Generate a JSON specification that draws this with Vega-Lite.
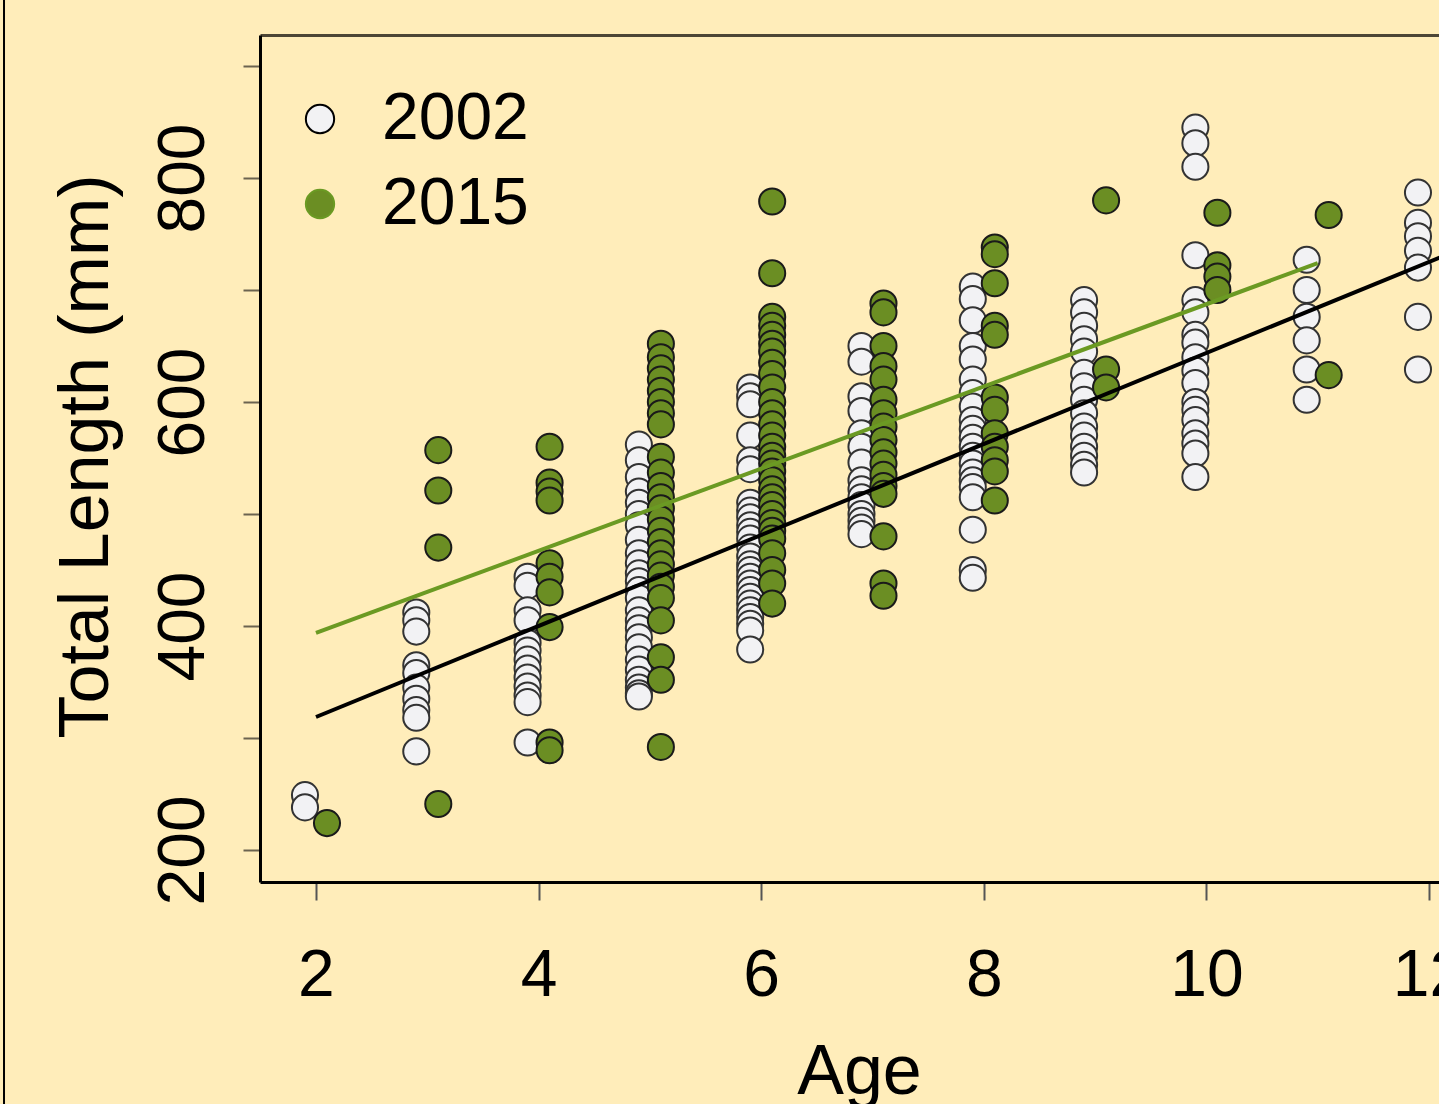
{
  "$schema": "https://vega.github.io/schema/vega-lite/v6.json",
  "width": 1179,
  "height": 847,
  "autosize": {"type": "none"},
  "padding": {"left": 260, "top": 35, "right": 0, "bottom": 222},
  "background": "#FFEDBA",
  "config": {
    "view": {"stroke": null},
    "font": "Liberation Sans"
  },
  "datasets": {
    "fish": [
      {"year": "2002", "age": 2, "length": 249}, {"year": "2002", "age": 2, "length": 238},
      {"year": "2002", "age": 3, "length": 412}, {"year": "2002", "age": 3, "length": 405}, {"year": "2002", "age": 3, "length": 395}, {"year": "2002", "age": 3, "length": 365}, {"year": "2002", "age": 3, "length": 358}, {"year": "2002", "age": 3, "length": 345}, {"year": "2002", "age": 3, "length": 335}, {"year": "2002", "age": 3, "length": 325}, {"year": "2002", "age": 3, "length": 318}, {"year": "2002", "age": 3, "length": 288},
      {"year": "2002", "age": 4, "length": 444}, {"year": "2002", "age": 4, "length": 436}, {"year": "2002", "age": 4, "length": 414}, {"year": "2002", "age": 4, "length": 405}, {"year": "2002", "age": 4, "length": 385}, {"year": "2002", "age": 4, "length": 378}, {"year": "2002", "age": 4, "length": 370}, {"year": "2002", "age": 4, "length": 362}, {"year": "2002", "age": 4, "length": 354}, {"year": "2002", "age": 4, "length": 346}, {"year": "2002", "age": 4, "length": 338}, {"year": "2002", "age": 4, "length": 332}, {"year": "2002", "age": 4, "length": 296},
      {"year": "2002", "age": 5, "length": 562}, {"year": "2002", "age": 5, "length": 548}, {"year": "2002", "age": 5, "length": 533}, {"year": "2002", "age": 5, "length": 520}, {"year": "2002", "age": 5, "length": 510}, {"year": "2002", "age": 5, "length": 500}, {"year": "2002", "age": 5, "length": 490}, {"year": "2002", "age": 5, "length": 477}, {"year": "2002", "age": 5, "length": 465}, {"year": "2002", "age": 5, "length": 456}, {"year": "2002", "age": 5, "length": 447}, {"year": "2002", "age": 5, "length": 440}, {"year": "2002", "age": 5, "length": 432}, {"year": "2002", "age": 5, "length": 425}, {"year": "2002", "age": 5, "length": 414}, {"year": "2002", "age": 5, "length": 405}, {"year": "2002", "age": 5, "length": 398}, {"year": "2002", "age": 5, "length": 390}, {"year": "2002", "age": 5, "length": 381}, {"year": "2002", "age": 5, "length": 370}, {"year": "2002", "age": 5, "length": 361}, {"year": "2002", "age": 5, "length": 352}, {"year": "2002", "age": 5, "length": 345}, {"year": "2002", "age": 5, "length": 340}, {"year": "2002", "age": 5, "length": 337},
      {"year": "2002", "age": 6, "length": 613}, {"year": "2002", "age": 6, "length": 605}, {"year": "2002", "age": 6, "length": 598}, {"year": "2002", "age": 6, "length": 570}, {"year": "2002", "age": 6, "length": 548}, {"year": "2002", "age": 6, "length": 540}, {"year": "2002", "age": 6, "length": 510}, {"year": "2002", "age": 6, "length": 503}, {"year": "2002", "age": 6, "length": 497}, {"year": "2002", "age": 6, "length": 490}, {"year": "2002", "age": 6, "length": 484}, {"year": "2002", "age": 6, "length": 478}, {"year": "2002", "age": 6, "length": 470}, {"year": "2002", "age": 6, "length": 462}, {"year": "2002", "age": 6, "length": 455}, {"year": "2002", "age": 6, "length": 450}, {"year": "2002", "age": 6, "length": 444}, {"year": "2002", "age": 6, "length": 438}, {"year": "2002", "age": 6, "length": 432}, {"year": "2002", "age": 6, "length": 426}, {"year": "2002", "age": 6, "length": 420}, {"year": "2002", "age": 6, "length": 414}, {"year": "2002", "age": 6, "length": 408}, {"year": "2002", "age": 6, "length": 402}, {"year": "2002", "age": 6, "length": 396}, {"year": "2002", "age": 6, "length": 379},
      {"year": "2002", "age": 7, "length": 650}, {"year": "2002", "age": 7, "length": 636}, {"year": "2002", "age": 7, "length": 605}, {"year": "2002", "age": 7, "length": 592}, {"year": "2002", "age": 7, "length": 572}, {"year": "2002", "age": 7, "length": 560}, {"year": "2002", "age": 7, "length": 546}, {"year": "2002", "age": 7, "length": 530}, {"year": "2002", "age": 7, "length": 522}, {"year": "2002", "age": 7, "length": 515}, {"year": "2002", "age": 7, "length": 508}, {"year": "2002", "age": 7, "length": 500}, {"year": "2002", "age": 7, "length": 494}, {"year": "2002", "age": 7, "length": 488}, {"year": "2002", "age": 7, "length": 482},
      {"year": "2002", "age": 8, "length": 703}, {"year": "2002", "age": 8, "length": 692}, {"year": "2002", "age": 8, "length": 673}, {"year": "2002", "age": 8, "length": 650}, {"year": "2002", "age": 8, "length": 638}, {"year": "2002", "age": 8, "length": 620}, {"year": "2002", "age": 8, "length": 608}, {"year": "2002", "age": 8, "length": 596}, {"year": "2002", "age": 8, "length": 584}, {"year": "2002", "age": 8, "length": 576}, {"year": "2002", "age": 8, "length": 568}, {"year": "2002", "age": 8, "length": 560}, {"year": "2002", "age": 8, "length": 552}, {"year": "2002", "age": 8, "length": 545}, {"year": "2002", "age": 8, "length": 537}, {"year": "2002", "age": 8, "length": 530}, {"year": "2002", "age": 8, "length": 524}, {"year": "2002", "age": 8, "length": 515}, {"year": "2002", "age": 8, "length": 486}, {"year": "2002", "age": 8, "length": 450}, {"year": "2002", "age": 8, "length": 443},
      {"year": "2002", "age": 9, "length": 691}, {"year": "2002", "age": 9, "length": 680}, {"year": "2002", "age": 9, "length": 668}, {"year": "2002", "age": 9, "length": 656}, {"year": "2002", "age": 9, "length": 645}, {"year": "2002", "age": 9, "length": 626}, {"year": "2002", "age": 9, "length": 614}, {"year": "2002", "age": 9, "length": 602}, {"year": "2002", "age": 9, "length": 590}, {"year": "2002", "age": 9, "length": 578}, {"year": "2002", "age": 9, "length": 570}, {"year": "2002", "age": 9, "length": 560}, {"year": "2002", "age": 9, "length": 552}, {"year": "2002", "age": 9, "length": 544}, {"year": "2002", "age": 9, "length": 537},
      {"year": "2002", "age": 10, "length": 845}, {"year": "2002", "age": 10, "length": 831}, {"year": "2002", "age": 10, "length": 810}, {"year": "2002", "age": 10, "length": 731}, {"year": "2002", "age": 10, "length": 691}, {"year": "2002", "age": 10, "length": 680}, {"year": "2002", "age": 10, "length": 660}, {"year": "2002", "age": 10, "length": 653}, {"year": "2002", "age": 10, "length": 640}, {"year": "2002", "age": 10, "length": 628}, {"year": "2002", "age": 10, "length": 617}, {"year": "2002", "age": 10, "length": 600}, {"year": "2002", "age": 10, "length": 593}, {"year": "2002", "age": 10, "length": 584}, {"year": "2002", "age": 10, "length": 572}, {"year": "2002", "age": 10, "length": 563}, {"year": "2002", "age": 10, "length": 554}, {"year": "2002", "age": 10, "length": 533},
      {"year": "2002", "age": 11, "length": 727}, {"year": "2002", "age": 11, "length": 700}, {"year": "2002", "age": 11, "length": 676}, {"year": "2002", "age": 11, "length": 655}, {"year": "2002", "age": 11, "length": 629}, {"year": "2002", "age": 11, "length": 602},
      {"year": "2002", "age": 12, "length": 787}, {"year": "2002", "age": 12, "length": 760}, {"year": "2002", "age": 12, "length": 748}, {"year": "2002", "age": 12, "length": 735}, {"year": "2002", "age": 12, "length": 720}, {"year": "2002", "age": 12, "length": 676}, {"year": "2002", "age": 12, "length": 629},
      {"year": "2015", "age": 2, "length": 224},
      {"year": "2015", "age": 3, "length": 557}, {"year": "2015", "age": 3, "length": 521}, {"year": "2015", "age": 3, "length": 470}, {"year": "2015", "age": 3, "length": 241},
      {"year": "2015", "age": 4, "length": 560}, {"year": "2015", "age": 4, "length": 528}, {"year": "2015", "age": 4, "length": 520}, {"year": "2015", "age": 4, "length": 512}, {"year": "2015", "age": 4, "length": 456}, {"year": "2015", "age": 4, "length": 444}, {"year": "2015", "age": 4, "length": 430}, {"year": "2015", "age": 4, "length": 399}, {"year": "2015", "age": 4, "length": 296}, {"year": "2015", "age": 4, "length": 289},
      {"year": "2015", "age": 5, "length": 652}, {"year": "2015", "age": 5, "length": 640}, {"year": "2015", "age": 5, "length": 630}, {"year": "2015", "age": 5, "length": 620}, {"year": "2015", "age": 5, "length": 610}, {"year": "2015", "age": 5, "length": 600}, {"year": "2015", "age": 5, "length": 590}, {"year": "2015", "age": 5, "length": 580}, {"year": "2015", "age": 5, "length": 551}, {"year": "2015", "age": 5, "length": 537}, {"year": "2015", "age": 5, "length": 525}, {"year": "2015", "age": 5, "length": 515}, {"year": "2015", "age": 5, "length": 505}, {"year": "2015", "age": 5, "length": 495}, {"year": "2015", "age": 5, "length": 485}, {"year": "2015", "age": 5, "length": 475}, {"year": "2015", "age": 5, "length": 465}, {"year": "2015", "age": 5, "length": 455}, {"year": "2015", "age": 5, "length": 445}, {"year": "2015", "age": 5, "length": 435}, {"year": "2015", "age": 5, "length": 425}, {"year": "2015", "age": 5, "length": 405}, {"year": "2015", "age": 5, "length": 372}, {"year": "2015", "age": 5, "length": 352}, {"year": "2015", "age": 5, "length": 292},
      {"year": "2015", "age": 6, "length": 779}, {"year": "2015", "age": 6, "length": 715}, {"year": "2015", "age": 6, "length": 676}, {"year": "2015", "age": 6, "length": 668}, {"year": "2015", "age": 6, "length": 660}, {"year": "2015", "age": 6, "length": 652}, {"year": "2015", "age": 6, "length": 645}, {"year": "2015", "age": 6, "length": 635}, {"year": "2015", "age": 6, "length": 625}, {"year": "2015", "age": 6, "length": 613}, {"year": "2015", "age": 6, "length": 600}, {"year": "2015", "age": 6, "length": 590}, {"year": "2015", "age": 6, "length": 580}, {"year": "2015", "age": 6, "length": 570}, {"year": "2015", "age": 6, "length": 560}, {"year": "2015", "age": 6, "length": 552}, {"year": "2015", "age": 6, "length": 545}, {"year": "2015", "age": 6, "length": 538}, {"year": "2015", "age": 6, "length": 530}, {"year": "2015", "age": 6, "length": 522}, {"year": "2015", "age": 6, "length": 515}, {"year": "2015", "age": 6, "length": 508}, {"year": "2015", "age": 6, "length": 500}, {"year": "2015", "age": 6, "length": 492}, {"year": "2015", "age": 6, "length": 485}, {"year": "2015", "age": 6, "length": 478}, {"year": "2015", "age": 6, "length": 465}, {"year": "2015", "age": 6, "length": 450}, {"year": "2015", "age": 6, "length": 438}, {"year": "2015", "age": 6, "length": 420},
      {"year": "2015", "age": 7, "length": 688}, {"year": "2015", "age": 7, "length": 680}, {"year": "2015", "age": 7, "length": 650}, {"year": "2015", "age": 7, "length": 632}, {"year": "2015", "age": 7, "length": 620}, {"year": "2015", "age": 7, "length": 602}, {"year": "2015", "age": 7, "length": 590}, {"year": "2015", "age": 7, "length": 578}, {"year": "2015", "age": 7, "length": 566}, {"year": "2015", "age": 7, "length": 555}, {"year": "2015", "age": 7, "length": 545}, {"year": "2015", "age": 7, "length": 535}, {"year": "2015", "age": 7, "length": 525}, {"year": "2015", "age": 7, "length": 518}, {"year": "2015", "age": 7, "length": 480}, {"year": "2015", "age": 7, "length": 438}, {"year": "2015", "age": 7, "length": 427},
      {"year": "2015", "age": 8, "length": 738}, {"year": "2015", "age": 8, "length": 732}, {"year": "2015", "age": 8, "length": 706}, {"year": "2015", "age": 8, "length": 668}, {"year": "2015", "age": 8, "length": 660}, {"year": "2015", "age": 8, "length": 604}, {"year": "2015", "age": 8, "length": 593}, {"year": "2015", "age": 8, "length": 572}, {"year": "2015", "age": 8, "length": 560}, {"year": "2015", "age": 8, "length": 548}, {"year": "2015", "age": 8, "length": 538}, {"year": "2015", "age": 8, "length": 512},
      {"year": "2015", "age": 9, "length": 780}, {"year": "2015", "age": 9, "length": 629}, {"year": "2015", "age": 9, "length": 613},
      {"year": "2015", "age": 10, "length": 769}, {"year": "2015", "age": 10, "length": 722}, {"year": "2015", "age": 10, "length": 712}, {"year": "2015", "age": 10, "length": 700},
      {"year": "2015", "age": 11, "length": 767}, {"year": "2015", "age": 11, "length": 624}
    ],
    "fits": [
      {"year": "2002", "age": 2, "length": 318.75},
      {"year": "2002", "age": 13, "length": 765.6},
      {"year": "2015", "age": 2, "length": 393.8},
      {"year": "2015", "age": 11, "length": 724}
    ]
  },
  "layer": [
    {
      "data": {"values": [{}]},
      "mark": {"type": "rule", "clip": false, "color": "#000000", "strokeWidth": 2},
      "encoding": {
        "x": {"datum": -0.803, "type": "quantitative", "scale": {"domain": [1.497, 12.09], "nice": false, "zero": false}, "axis": null},
        "y": {"datum": 959, "type": "quantitative", "scale": {"domain": [171.4, 927.7], "nice": false, "zero": false}, "axis": null},
        "y2": {"datum": -27}
      }
    },
    {
      "data": {"name": "fish"},
      "transform": [{"filter": "datum.year == '2002'"}],
      "mark": {"type": "circle", "size": 680, "opacity": 1, "stroke": "#333333", "strokeWidth": 2, "xOffset": -11},
      "encoding": {
        "x": {
          "field": "age", "type": "quantitative",
          "scale": {"domain": [1.497, 12.09], "nice": false, "zero": false},
          "axis": {
            "orient": "bottom", "values": [2, 4, 6, 8, 10, 12], "grid": false,
            "domain": true, "domainColor": "#000000", "domainWidth": 3,
            "ticks": true, "tickSize": 18, "tickColor": "#555555", "tickWidth": 2,
            "labelFontSize": 66, "labelColor": "#000000", "labelBaseline": "alphabetic", "labelPadding": 95, "labelFlush": false, "labelOverlap": false,
            "title": "Age", "titleFontSize": 70, "titleFontWeight": "normal", "titleColor": "#000000",
            "titleX": 599, "titleY": 211, "titleAlign": "center", "titleBaseline": "alphabetic"
          }
        },
        "y": {
          "field": "length", "type": "quantitative",
          "scale": {"domain": [171.4, 927.7], "nice": false, "zero": false},
          "axis": {
            "orient": "left", "values": [200, 300, 400, 500, 600, 700, 800, 900], "grid": false,
            "labelExpr": "datum.value % 200 == 0 && datum.value < 900 ? datum.label : ''",
            "domain": true, "domainColor": "#000000", "domainWidth": 3,
            "ticks": true, "tickSize": 17, "tickColor": "#6b6350", "tickWidth": 2,
            "labelFontSize": 66, "labelColor": "#000000", "labelAngle": 270, "labelAlign": "center", "labelBaseline": "alphabetic", "labelPadding": 40, "labelFlush": false, "labelOverlap": false,
            "title": "Total Length (mm)", "titleFontSize": 70, "titleFontWeight": "normal", "titleColor": "#000000",
            "titleAngle": 270, "titleX": -153, "titleY": 421, "titleAlign": "center", "titleBaseline": "alphabetic"
          }
        },
        "fill": {
          "field": "year", "type": "nominal",
          "scale": {"domain": ["2002", "2015"], "range": ["#F2F2F4", "#6B8E23"]},
          "legend": {
            "orient": "none", "legendX": 27, "legendY": 51, "padding": 0, "title": null,
            "symbolType": "circle", "symbolSize": 800, "symbolStrokeColor": "#333333", "symbolStrokeWidth": 2, "symbolOpacity": 1,
            "labelFontSize": 66, "labelColor": "#000000", "labelOffset": 29, "labelBaseline": "middle",
            "rowPadding": 19
          }
        }
      }
    },
    {
      "data": {"name": "fish"},
      "transform": [{"filter": "datum.year == '2015'"}],
      "mark": {"type": "circle", "size": 680, "opacity": 1, "stroke": "#1a1a1a", "strokeWidth": 2, "xOffset": 11},
      "encoding": {
        "x": {"field": "age", "type": "quantitative", "scale": {"domain": [1.497, 12.09], "nice": false, "zero": false}, "axis": null},
        "y": {"field": "length", "type": "quantitative", "scale": {"domain": [171.4, 927.7], "nice": false, "zero": false}, "axis": null},
        "fill": {"field": "year", "type": "nominal", "scale": {"domain": ["2002", "2015"], "range": ["#F2F2F4", "#6B8E23"]}}
      }
    },
    {
      "data": {"name": "fits"},
      "mark": {"type": "line", "strokeWidth": 4, "clip": true},
      "encoding": {
        "x": {
          "field": "age", "type": "quantitative",
          "scale": {"domain": [1.497, 12.09], "nice": false, "zero": false},
          "axis": {"orient": "top", "domain": true, "domainColor": "#4d4636", "domainWidth": 3, "ticks": false, "labels": false, "grid": false, "title": null}
        },
        "y": {"field": "length", "type": "quantitative", "scale": {"domain": [171.4, 927.7], "nice": false, "zero": false}, "axis": null},
        "stroke": {"field": "year", "type": "nominal", "scale": {"domain": ["2002", "2015"], "range": ["#000000", "#6B9A23"]}, "legend": null}
      }
    }
  ],
  "resolve": {"axis": {"x": "independent", "y": "independent"}}
}
